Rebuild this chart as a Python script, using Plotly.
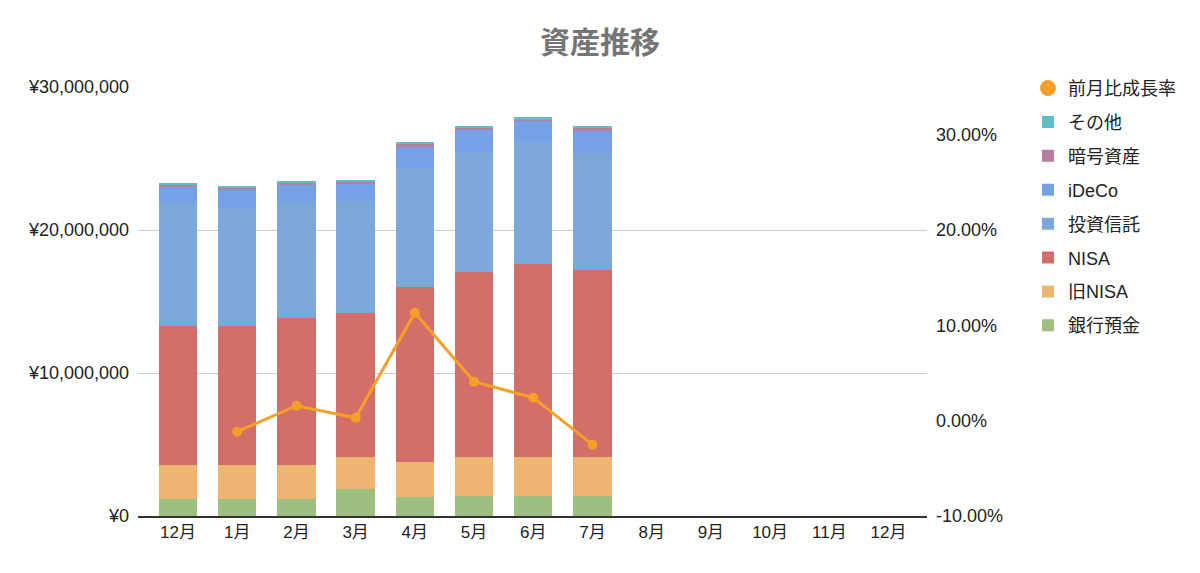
import plotly.graph_objects as go

months = ["12月", "1月", "2月", "3月", "4月", "5月", "6月", "7月", "8月", "9月", "10月", "11月", "12月"]

bank = [1190000, 1190000, 1190000, 1870000, 1310000, 1420000, 1420000, 1420000]
old_nisa = [2380000, 2380000, 2380000, 2260000, 2490000, 2710000, 2710000, 2710000]
nisa = [9740000, 9740000, 10280000, 10040000, 12190000, 12950000, 13490000, 13070000]
trust = [8560000, 8320000, 8110000, 7880000, 8440000, 8440000, 8530000, 8210000]
ideco = [1160000, 1170000, 1170000, 1190000, 1400000, 1470000, 1470000, 1500000]
crypto = [140000, 140000, 210000, 140000, 210000, 160000, 140000, 230000]
other = [50000, 70000, 20000, 100000, 100000, 100000, 120000, 120000]
growth = [None, -0.0116, 0.0157, 0.0031, 0.1133, 0.0409, 0.0241, -0.0252]

yen_ticks = [0, 10000000, 20000000, 30000000]
pct_ticks = [-0.1, 0.0, 0.1, 0.2, 0.3]

series = [
    ("銀行預金", bank, "#9DC081"),
    ("旧NISA", old_nisa, "#EEB472"),
    ("NISA", nisa, "#D36E68"),
    ("投資信託", trust, "#7BA8D8"),
    ("iDeCo", ideco, "#76A0E8"),
    ("暗号資産", crypto, "#B87EA0"),
    ("その他", other, "#63BDC6"),
]
line_color = "#F4A028"

FONT = "Liberation Sans, Arial, Noto Sans CJK JP, sans-serif"
xpos = list(range(len(months)))

fig = go.Figure()
n = len(series)
for i, (name, vals, col) in enumerate(series):
    fig.add_trace(go.Bar(
        x=xpos[:len(vals)], y=vals, name=name,
        marker=dict(color=col, line=dict(width=0)),
        legendgroup=f"g{i}", legendrank=10 + (n - i),
    ))

fig.add_trace(go.Scatter(
    x=xpos[:len(growth)], y=growth, name="前月比成長率",
    mode="lines+markers", yaxis="y2",
    line=dict(color=line_color, width=3),
    marker=dict(color=line_color, size=10),
    showlegend=False, connectgaps=False,
))
# legend-only entry (circle symbol)
fig.add_trace(go.Scatter(
    x=[None], y=[None], name="前月比成長率", mode="markers", yaxis="y2",
    marker=dict(color=line_color, size=18), legendgroup="gline", legendrank=1,
))

W, H = 1192, 565  # page body adds 8px offset
fig.update_layout(
    width=W, height=H,
    margin=dict(l=130, r=W - 919, t=79, b=H - 508),
    paper_bgcolor="white", plot_bgcolor="white",
    barmode="stack", bargap=0.353,
    title=dict(text="<b>資産推移</b>", x=592 / W, xref="container", xanchor="center",
               y=1 - 34 / H, yref="container", yanchor="middle",
               font=dict(family="Noto Sans CJK JP, sans-serif", size=30, color="#757575")),
    font=dict(family=FONT, size=16, color="#222222"),
    xaxis=dict(
        tickmode="array", tickvals=xpos, ticktext=months,
        range=[-0.676, 12.65], showgrid=False, zeroline=False,
        showline=True, linecolor="#333333", linewidth=1.5,
        ticks="", tickfont=dict(family=FONT, size=17, color="#222222"),
    ),
    yaxis=dict(
        range=[0, 30000000], tickmode="array", tickvals=yen_ticks,
        ticktext=[f"¥{v:,}" for v in yen_ticks],
        showgrid=True, gridcolor="#CCCCCC",
        gridwidth=1, zeroline=False, showline=False, ticklabelstandoff=8,
        tickfont=dict(family=FONT, size=18, color="#222222"),
    ),
    yaxis2=dict(
        overlaying="y", side="right", range=[-0.10, 0.35],
        tickmode="array", tickvals=pct_ticks,
        ticktext=[f"{v * 100:.2f}%" for v in pct_ticks],
        showgrid=False, zeroline=False, showline=False, ticklabelstandoff=8,
        tickfont=dict(family=FONT, size=18, color="#222222"),
    ),
    legend=dict(
        x=1.128, xanchor="left", y=1.040, yanchor="top",
        traceorder="grouped", tracegroupgap=7.5, maxheight=1,
        font=dict(family=FONT, size=18, color="#222222"),
        bgcolor="rgba(0,0,0,0)",
    ),
)

fig.write_html("out.html")
